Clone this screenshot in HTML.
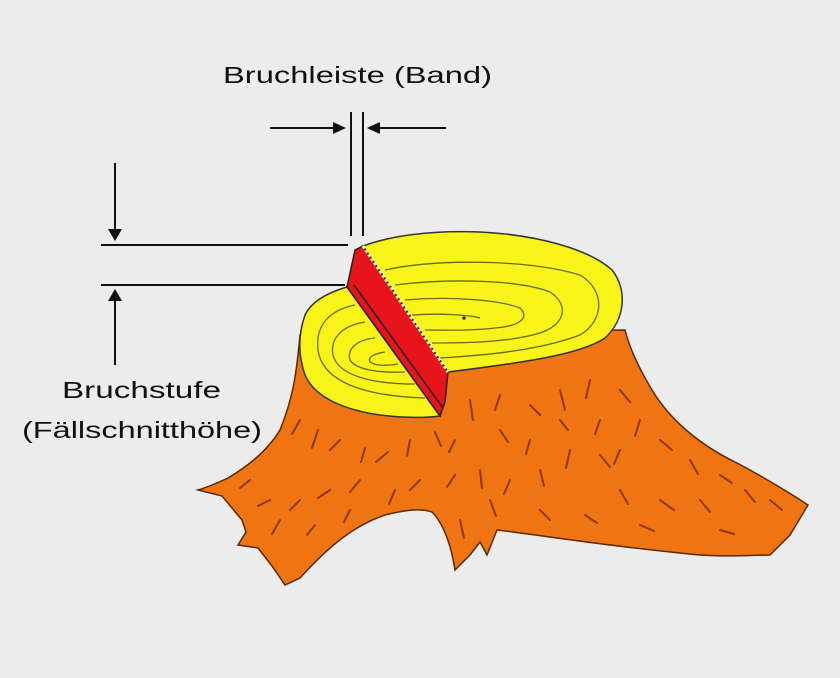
<!DOCTYPE html>
<html><head><style>html,body{margin:0;padding:0;background:#ececec}svg{display:block}</style></head>
<body>
<svg width="840" height="678" viewBox="0 0 840 678" xmlns="http://www.w3.org/2000/svg">
<rect width="840" height="678" fill="#ececec"/>
<!-- stump body -->
<path d="M300,335 C296,380 292,400 280,430 C268,450 250,465 228,478 C215,484 205,488 198,490 L222,496 L232,508 L242,520 L246,532 L238,545 L258,548 L272,566 L285,585 L300,578 C330,545 355,525 385,515 C405,510 420,508 432,512 C445,525 452,550 455,570 L470,555 L480,542 L487,555 L497,530 C540,535 600,545 680,553 C720,558 750,555 770,555 L790,535 L808,505 C790,493 760,475 735,462 C700,445 670,420 652,390 C640,370 630,350 625,330 Z" fill="#f07412" stroke="#5a2a00" stroke-width="1.5"/>
<!-- bark marks -->
<g stroke="#8a3a05" stroke-width="2" stroke-linecap="round" fill="none">
<path d="M300,420 l-8,14 M318,430 l-6,18 M340,440 l-10,10 M365,448 l-4,14 M388,452 l-12,10 M410,440 l-3,16 M435,432 l6,14 M470,400 l3,20 M500,395 l-5,15 M530,405 l10,10 M560,390 l5,20 M590,380 l-4,18 M620,390 l10,12 M640,420 l-5,16 M660,440 l12,10 M690,460 l8,14 M720,475 l12,8 M745,490 l10,12 M770,500 l12,10 M700,500 l10,12 M660,500 l14,10 M620,490 l8,14 M600,455 l10,12 M570,450 l-4,18 M540,470 l4,16 M510,480 l-6,14 M480,470 l2,18 M455,475 l-8,12 M420,480 l-10,10 M395,490 l-6,14 M360,480 l-10,12 M330,490 l-12,8 M300,500 l-10,10 M270,500 l-12,6 M250,480 l-10,8 M280,520 l-8,14 M315,525 l-8,10 M350,510 l-6,12 M460,520 l4,18 M490,500 l6,16 M540,510 l10,10 M585,515 l12,8 M640,525 l14,6 M720,530 l14,4 M500,430 l8,12 M530,440 l-4,14 M455,440 l-6,12 M600,420 l-5,14 M560,420 l8,10 M620,450 l-6,14"/>
</g>
<!-- lower cut face -->
<path d="M347,287 C330,292 312,300 305,315 C298,335 298,355 305,375 C315,398 345,410 380,415 C405,418 425,418 440,416 Z" fill="#f8f41a" stroke="#333" stroke-width="1.5"/>
<g stroke="#6a6a10" stroke-width="1.3" fill="none">
<path d="M355,305 C330,310 315,325 318,350 C322,380 360,396 425,398"/>
<path d="M365,322 C340,326 330,340 333,355 C338,375 370,384 415,384"/>
<path d="M375,338 C355,340 347,350 350,360 C356,370 380,373 405,372"/>
<path d="M385,352 C372,354 368,358 370,362 C375,366 388,366 398,364"/>
</g>
<!-- upper cut face -->
<path d="M363,246 C390,236 430,230 480,232 C540,235 590,250 612,270 C628,290 625,320 605,338 C580,355 520,363 448,372 Z" fill="#f8f41a" stroke="#333" stroke-width="1.5"/>
<g stroke="#6a6a10" stroke-width="1.3" fill="none">
<path d="M385,270 C440,258 530,260 580,275 C605,290 605,320 580,335 C540,350 490,355 440,358"/>
<path d="M395,285 C450,278 520,280 550,292 C570,305 565,325 540,333 C510,342 470,343 432,343"/>
<path d="M405,300 C450,296 500,300 520,308 C530,318 520,326 495,328 C470,331 445,330 425,330"/>
<path d="M412,315 C440,313 470,315 480,318"/>
</g>
<circle cx="464" cy="318" r="1.8" fill="#333"/>
<!-- red band -->
<path d="M355,250 L363,246 L448,372 L445,402 L440,416 L347,287 Z" fill="#e8141c" stroke="#222" stroke-width="1.5"/>
<path d="M354,285 L443,408" stroke="#222" stroke-width="1.5"/>
<path d="M363,246 L448,372" stroke="#fff6b0" stroke-width="3" stroke-dasharray="3,2"/>
<!-- dimension lines -->
<g stroke="#111" stroke-width="2" fill="none">
<line x1="101" y1="245" x2="348" y2="245"/>
<line x1="101" y1="285" x2="345" y2="285"/>
<line x1="115" y1="163" x2="115" y2="232"/>
<line x1="115" y1="298" x2="115" y2="365"/>
<line x1="351" y1="112" x2="351" y2="236"/>
<line x1="363" y1="112" x2="363" y2="236"/>
<line x1="270" y1="128" x2="335" y2="128"/>
<line x1="378" y1="128" x2="446" y2="128"/>
</g>
<g fill="#111">
<polygon points="108,229 122,229 115,241"/>
<polygon points="108,301 122,301 115,289"/>
<polygon points="333,122 333,134 346,128"/>
<polygon points="380,122 380,134 367,128"/>
</g>
<g font-family="Liberation Sans, sans-serif" font-size="23" fill="#111">
<text x="223" y="83" textLength="269" lengthAdjust="spacingAndGlyphs">Bruchleiste (Band)</text>
<text x="62" y="398" textLength="159" lengthAdjust="spacingAndGlyphs">Bruchstufe</text>
<text x="22" y="438" textLength="240" lengthAdjust="spacingAndGlyphs">(Fällschnitthöhe)</text>
</g>
</svg>
</body></html>
